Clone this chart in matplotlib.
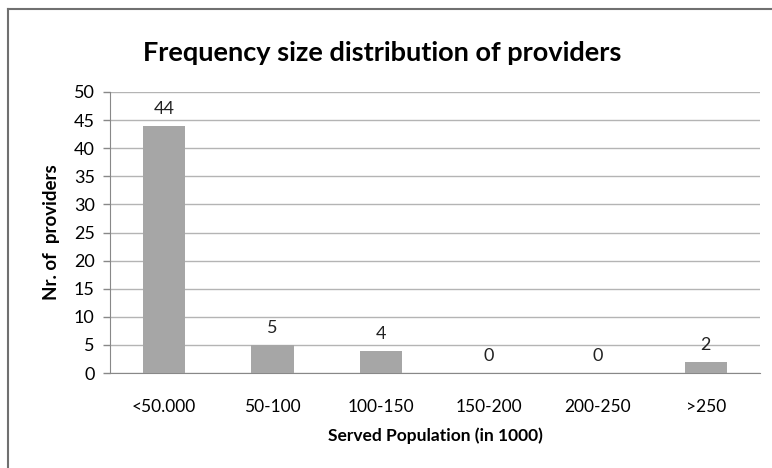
import matplotlib
matplotlib.use("Agg")
import matplotlib.pyplot as plt
from matplotlib.lines import Line2D

categories = ["<50.000", "50-100", "100-150", "150-200", "200-250", ">250"]
providers = [44, 5, 4, 0, 0, 2]
y_ticks = [0, 5, 10, 15, 20, 25, 30, 35, 40, 45, 50]

plt.rcParams["font.family"] = ["Lato", "DejaVu Sans"]

fig = plt.figure(figsize=(7.72, 4.68), dpi=100)
ax = fig.add_axes([110 / 772, 1 - 373 / 468, 650 / 772, 281 / 468])

x = range(len(categories))
ax.bar(x, providers, width=0.39, color="#a6a6a6", zorder=3)
for xi, v in zip(x, providers):
    ax.text(xi, v + 1.6, str(v), ha="center", va="bottom", fontsize=13, color="#222222")

ax.set_xlim(-0.5, len(categories) - 0.5)
ax.set_ylim(0, 50)
ax.set_yticks(y_ticks)
ax.set_xticks(list(x))
ax.set_xticklabels(categories)
ax.tick_params(axis="x", length=0, pad=19, labelsize=12.5)
ax.tick_params(axis="y", length=5, width=1, color="#888888", pad=6, labelsize=13)
ax.yaxis.grid(True, color="#b4b4b4", linewidth=1, zorder=0)
for side in ["top", "right"]:
    ax.spines[side].set_visible(False)
for side in ["left", "bottom"]:
    ax.spines[side].set_color("#888888")

ax.set_ylabel("Nr. of  providers", fontsize=13.5, fontweight="bold", labelpad=10)
ax.set_xlabel("Served Population (in 1000)", fontsize=12.5, fontweight="bold", labelpad=9)

fig.text(382 / 772, 1 - 53 / 468, "Frequency size distribution of providers",
         ha="center", va="center", fontsize=19.5, fontweight="bold")

# outer frame (left and top edge visible in the crop)
fig.add_artist(Line2D([8 / 772, 8 / 772], [0, 1 - 9 / 468], transform=fig.transFigure,
                      color="#707070", linewidth=1.5))
fig.add_artist(Line2D([8 / 772, 1], [1 - 9 / 468, 1 - 9 / 468], transform=fig.transFigure,
                      color="#707070", linewidth=1.5))

fig.savefig("out.png", dpi=100)
